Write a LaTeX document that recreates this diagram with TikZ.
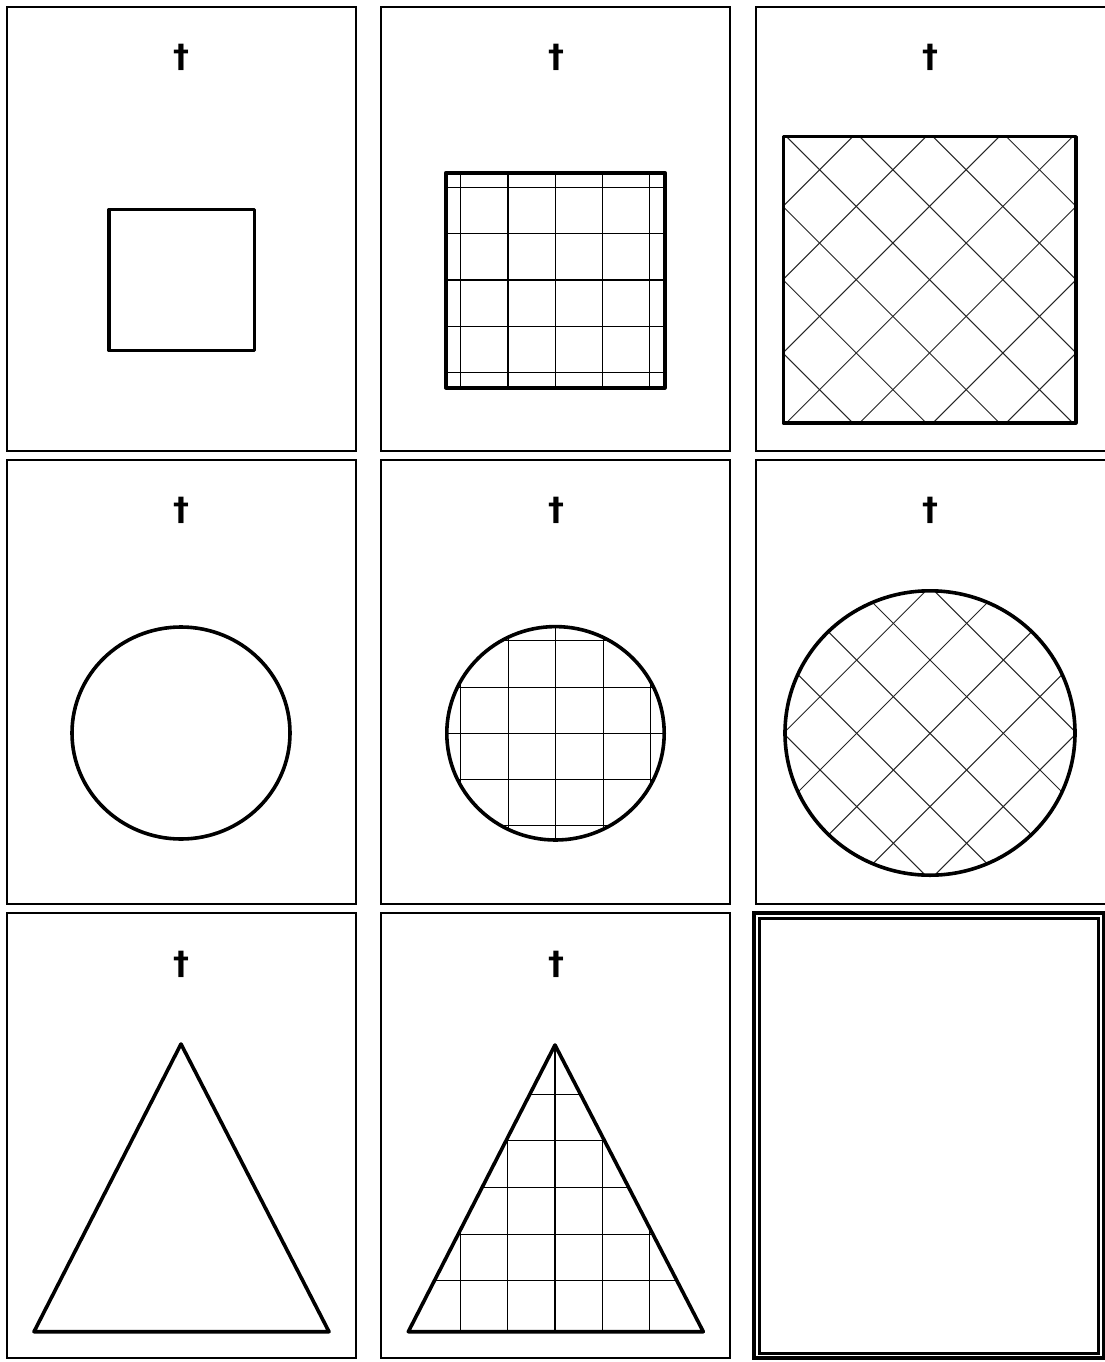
\documentclass[tikz,border=0pt]{standalone}
\usepackage{fontspec}
\newfontfamily\dagfont{DejaVu Sans}
\tikzset{
  panel/.style={draw=black, line width=1.5pt},
  shapeline/.style={draw=black, line width=3.6pt, line join=round},
  gridline/.style={draw=black, line width=1.1pt},
  hatchline/.style={draw=black!85, line width=1pt},
  dagger/.style={inner sep=0pt, font=\dagfont\bfseries\fontsize{32}{32}\selectfont},
}
\begin{document}
\begin{tikzpicture}[x=1pt,y=-1pt]
\useasboundingbox[fill=white] (0,0) rectangle (1104,1362);
% panels
\draw[panel] (7,7) rectangle (356,451);
\draw[panel] (381,7) rectangle (730,451);
\draw[panel] (756,7) rectangle (1110,451);
\draw[panel] (7,460) rectangle (356,904);
\draw[panel] (381,460) rectangle (730,904);
\draw[panel] (756,460) rectangle (1110,904);
\draw[panel] (7,913) rectangle (356,1358);
\draw[panel] (381,913) rectangle (730,1358);
% double-border panel
\draw[black, line width=4pt] (754.3,912.8) rectangle (1103.5,1358);
\draw[black, line width=3pt] (759.7,918) rectangle (1098.3,1353);
% daggers
\node[dagger] (d1) at (181,57) {†};
\node[dagger] (d2) at (556,57) {†};
\node[dagger] (d3) at (930,57) {†};
\node[dagger] (d4) at (181,510) {†};
\node[dagger] (d5) at (556,510) {†};
\node[dagger] (d6) at (930,510) {†};
\node[dagger] (d7) at (181,964) {†};
\node[dagger] (d8) at (556,964) {†};
% row 1 col 1: plain square
\draw[shapeline] (109,209.5) rectangle (254.5,350.5);
% row 1 col 2: square with grid
\begin{scope}
\clip (445.7,172.7) rectangle (665,387.7);
\foreach \k in {-2,...,2} {
  \draw[gridline] (555.3+47.3*\k,160) -- (555.3+47.3*\k,400);
  \draw[gridline] (430,280+46.4*\k) -- (680,280+46.4*\k);
}
\end{scope}
\draw[shapeline] (445.7,172.7) rectangle (665,387.7);
% row 1 col 3: square with diagonal hatch
\begin{scope}
\clip (783.3,136.7) rectangle (1075.7,422.7);
\foreach \k in {-6,...,6} {
  \draw[hatchline] (929.5+73.3*\k-320,279.7-320) -- (929.5+73.3*\k+320,279.7+320);
  \draw[hatchline] (929.5+73.3*\k+320,279.7-320) -- (929.5+73.3*\k-320,279.7+320);
}
\end{scope}
\draw[shapeline] (783.3,136.7) rectangle (1075.7,422.7);
% row 2 col 1: plain circle
\draw[shapeline] (181,733) ellipse [x radius=109, y radius=106];
% row 2 col 2: circle with grid
\begin{scope}
\clip (555.5,733.3) ellipse [x radius=108.7, y radius=106.7];
\foreach \k in {-2,...,2} {
  \draw[gridline] (555.7+47.5*\k,610) -- (555.7+47.5*\k,860);
  \draw[gridline] (430,733.3+46.25*\k) -- (680,733.3+46.25*\k);
}
\end{scope}
\draw[shapeline] (555.5,733.3) ellipse [x radius=108.7, y radius=106.7];
% row 2 col 3: circle with diagonal hatch
\begin{scope}
\clip (930,733) ellipse [x radius=145, y radius=142.2];
\foreach \k in {-6,...,6} {
  \draw[hatchline] (930+73.3*\k-320,733.3-320) -- (930+73.3*\k+320,733.3+320);
  \draw[hatchline] (930+73.3*\k+320,733.3-320) -- (930+73.3*\k-320,733.3+320);
}
\end{scope}
\draw[shapeline] (930,733) ellipse [x radius=145, y radius=142.2];
% row 3 col 1: plain triangle
\draw[shapeline] (181,1044) -- (329,1331.7) -- (34,1331.7) -- cycle;
% row 3 col 2: triangle with grid
\begin{scope}
\clip (555,1045) -- (703.3,1331.7) -- (408.3,1331.7) -- cycle;
\foreach \k in {-2,...,2} {
  \draw[gridline] (555+47.3*\k,1030) -- (555+47.3*\k,1340);
}
\foreach \k in {0,...,4} {
  \draw[gridline] (400,1094.3+46.6*\k) -- (710,1094.3+46.6*\k);
}
\end{scope}
\draw[shapeline] (555,1045) -- (703.3,1331.7) -- (408.3,1331.7) -- cycle;
\end{tikzpicture}
\end{document}
